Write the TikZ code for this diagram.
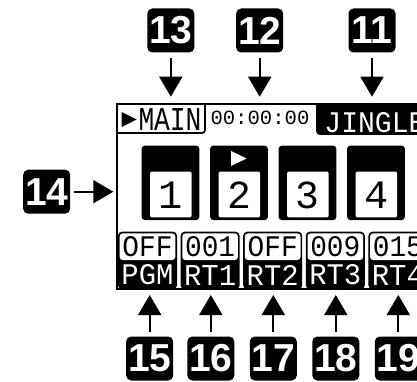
\documentclass[tikz,border=0pt]{standalone}
\usepackage{fontspec}
\setmainfont{Liberation Sans}
\newfontfamily\lcdfont{Liberation Mono}
\usetikzlibrary{arrows.meta}
\newcommand{\lcd}[3]{\resizebox{#1}{#2}{\lcdfont #3}}
\begin{document}
\begin{tikzpicture}[x=1pt,y=-1pt,
  callout/.style={fill=black, rounded corners=5pt, minimum width=47pt, minimum height=44pt,
    inner sep=0pt, text=white, font=\fontsize{39pt}{39pt}\selectfont\bfseries},
  callarrow/.style={line width=1.7pt, -{Triangle[width=23pt,length=20pt]}},
  lcdtext/.style={inner sep=0pt, text=black},
  lcdinv/.style={inner sep=0pt, text=white},
  frame/.style={line width=1.7pt}]
\useasboundingbox (0,0) rectangle (417,382);
\clip (0,0) rectangle (417,382);

% screen background
\fill[white] (117,104) rectangle (440,289);

% MAIN tab
\draw[frame, rounded corners=3pt] (205,104) -- (205,133) -- (117,133);
\fill (121.7,112) -- (136.7,119.5) -- (121.7,127) -- cycle;
\node[lcdtext] (main) at (170,119) {\lcd{63pt}{22pt}{MAIN}};
\node[lcdtext] (time) at (260,118.3) {\lcd{99pt}{13.5pt}{00:00:00}};

% JINGLE tab
\fill (440,104) -- (316,104) {[rounded corners=4pt] -- (316,135) -- (440,135)} -- cycle;
\node[lcdinv] (jingle) at (375,123) {\lcd{101pt}{20pt}{JINGLE}};

% pads
\foreach \x/\n in {141.7/1,210.2/2,278.7/3,347.2/4}{
  \fill[rounded corners=3pt] (\x,145.7) rectangle ({\x+57.6},220);
  \fill[white, rounded corners=1.5pt] ({\x+8.3},171.7) rectangle ({\x+50},217.3);
  \node[lcdtext] (pad\n) at ({\x+29.1},195) {\resizebox{!}{26.6pt}{\lcdfont \n}};
}
\fill[white] (231,151) -- (246.7,158.5) -- (231,166) -- cycle;

% bottom segments
\foreach \x/\t/\b in {118/OFF/PGM,180.6/001/RT1,243.2/OFF/RT2,305.8/009/RT3,368.4/015/RT4}{
  \fill[rounded corners=4pt] (\x,289.3) -- (\x,231.7) -- ({\x+59},231.7) -- ({\x+59},289.3) -- cycle;
  \fill[white, rounded corners=3pt] ({\x+1.7},260) -- ({\x+1.7},233.4) -- ({\x+57.3},233.4) -- ({\x+57.3},260) -- cycle;
  \node[lcdtext] (top\b) at ({\x+29.5},246.7) {\lcd{50pt}{20pt}{\t}};
  \node[lcdinv] (bot\b) at ({\x+29.5},275) {\lcd{52pt}{20pt}{\b}};
}

% screen frame
\draw[frame] (440,104) -- (117,104) -- (117,289) -- (440,289);

% callouts
\node[callout] (c13) at (170.8,30.5) {13};
\node[callout] (c12) at (259.7,30.5) {12};
\node[callout] (c11) at (372,30.5) {11};
\node[callout] (c14) at (46.7,191.7) {14};
\node[callout] (c15) at (149.7,358.5) {15};
\node[callout] (c16) at (210.8,358.5) {16};
\node[callout] (c17) at (273.3,358.5) {17};
\node[callout] (c18) at (335.8,358.5) {18};
\node[callout] (c19) at (398.3,358.5) {19};

\coordinate (t13) at (170.8,96.7);
\coordinate (t12) at (259.7,96.7);
\coordinate (t11) at (372,96.7);
\coordinate (t14) at (113.3,191.7);
\coordinate (t15) at (149.7,295);
\coordinate (t16) at (210.8,295);
\coordinate (t17) at (273.3,295);
\coordinate (t18) at (335.8,295);
\coordinate (t19) at (398.3,295);

\foreach \n in {11,12,13}{\draw[callarrow, shorten <=5pt] (c\n) -- (t\n);}
\draw[callarrow, shorten <=4pt] (c14) -- (t14);
\foreach \n in {15,16,17,18,19}{\draw[callarrow, shorten <=4pt] (c\n) -- (t\n);}
\end{tikzpicture}
\end{document}
